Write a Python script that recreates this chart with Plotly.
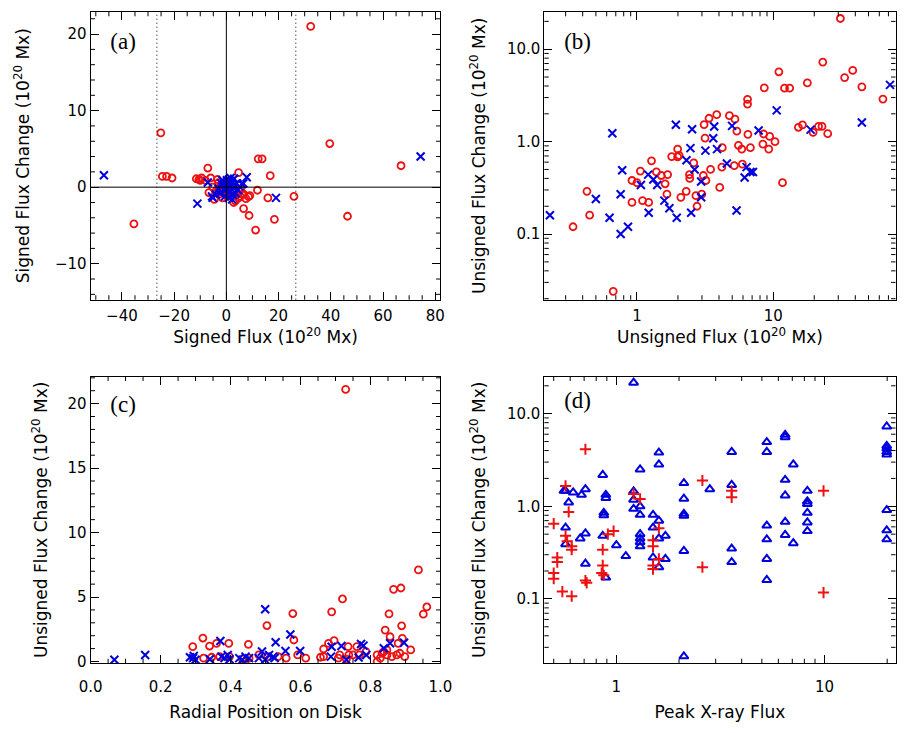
import math
import plotly.graph_objects as go

# ---------------- data ----------------
# Panel (a): signed flux vs signed flux change (1e20 Mx)
a_red_x = [32.3, -25.1, 39.6, 12.2, 13.7, 66.9, -7.1, 4.7, 16.8, -24.5, -22.9, -20.8, -11.5, -10.5, -9.5, -10.0,
           -3.4, 11.9, 15.9, 25.9, 8.5, 5.3, 6.6, 6.6, 8.7, 18.4, 11.2, 46.4, -35.4, -6.7, -4.6, 3.5, -1.5, -5.2,
           2.2, 4.7, 2.9, 1.0, -2.7, -1.5, 2.8, 6.0, -3.0, 0.5, -8.0, -6.0, 3.8, 5.5, 7.5, -1.0, 1.5, -4.0, 9.0,
           -2.0, 0.0]
a_red_y = [21.0, 7.1, 5.7, 3.7, 3.7, 2.8, 2.5, 1.9, 1.5, 1.4, 1.4, 1.2, 1.1, 1.0, 1.2, 0.9,
           1.0, -0.4, -1.4, -1.2, -1.25, -1.2, -0.9, -2.8, -3.7, -4.2, -5.6, -3.8, -4.8, -0.7, -1.6, -1.8, 0.3, 0.0,
           -0.5, -1.4, 0.3, -0.95, -0.9, -1.4, -2.0, -0.95, 0.6, -0.6, 0.9, 1.2, -1.0, -0.3, -1.5, -0.2, 0.8, -0.5,
           -1.1, 0.2, -1.1]
a_blue_x = [-46.9, 74.4, -11.1, 19.0, 7.8, 1.6, -7.1, -5.2, 1.0, 0.5, 1.5, 2.0, -1.0, 3.0, -2.0, 2.5, 4.0, -0.5,
            1.0, 3.5, -3.0, 0.8, 5.0, -1.5, 2.2, 6.0, -4.0, 1.2, 0.3, 3.0, -0.8, 4.5, 2.8, -2.5, 1.8, -5.5, 6.5, 0.2]
a_blue_y = [1.55, 4.0, -2.15, -1.4, 1.3, 1.2, 0.6, -1.4, -1.4, 0.3, -0.5, 0.8, -0.3, 0.2, 0.5, -1.0, 0.5, -1.2,
            1.0, -0.8, -0.2, -0.7, 0.1, 0.9, -1.6, 0.4, -1.0, 0.2, -0.2, 1.1, 0.4, -0.4, -0.1, -0.8, 0.5, -1.2, 0.5, 0.9]
a_dotted_x = [-26.6, 26.6]

# Panel (b): unsigned flux vs unsigned flux change
b_red_x = [31.1, 23.1, 11.0, 38.3, 33.4, 17.8, 8.6, 12.1, 13.2, 44.7, 63.8, 6.48, 6.48, 3.85, 3.38, 4.77, 5.24,
           3.11, 5.41, 6.52, 3.16, 8.5, 9.42, 10.3, 8.4, 9.27, 5.56, 5.88, 6.8, 4.23, 1.99, 1.8, 1.99, 2.04, 1.28,
           2.61, 4.2, 5.18, 5.94, 3.47, 1.06, 1.39, 1.68, 1.51, 2.43, 2.44, 3.07, 3.21, 0.92, 1.0, 1.61, 4.05, 11.7,
           0.43, 2.3, 1.66, 2.71, 2.99, 2.1, 1.1, 1.22, 0.92, 2.76, 0.45, 0.34, 0.67, 15.3, 16.4, 19.6, 21.5, 22.8,
           25.1]
b_red_y = [21.5, 7.26, 5.7, 5.9, 4.93, 4.32, 3.82, 3.79, 3.79, 3.92, 2.89, 2.87, 2.55, 1.96, 1.79, 1.91, 1.75,
           1.53, 1.30, 1.2, 1.09, 1.21, 1.14, 1.0, 0.94, 0.83, 0.91, 0.83, 0.86, 0.86, 0.83, 0.69, 0.686, 0.71, 0.62,
           0.59, 0.53, 0.55, 0.57, 0.50, 0.48, 0.47, 0.44, 0.43, 0.44, 0.40, 0.43, 0.38, 0.38, 0.36, 0.35, 0.32, 0.36,
           0.29, 0.29, 0.27, 0.26, 0.27, 0.25, 0.23, 0.22, 0.22, 0.20, 0.16, 0.12, 0.024, 1.43, 1.52, 1.26, 1.46, 1.46,
           1.22]
b_blue_x = [71.9, 10.6, 44.7, 1.93, 2.54, 3.69, 4.99, 7.81, 18.8, 0.66, 3.63, 2.47, 3.18, 3.87, 2.31, 4.57, 0.78,
            1.21, 2.65, 6.38, 6.8, 7.1, 6.17, 1.32, 2.96, 1.07, 1.41, 0.76, 0.50, 2.96, 1.59, 1.73, 2.5, 5.38, 1.22,
            1.96, 0.23, 0.63, 0.76, 0.86]
b_blue_y = [4.11, 2.18, 1.61, 1.52, 1.36, 1.46, 1.48, 1.32, 1.35, 1.23, 1.09, 0.85, 0.80, 0.83, 0.63, 0.58, 0.49,
            0.44, 0.50, 0.53, 0.47, 0.47, 0.41, 0.39, 0.37, 0.34, 0.34, 0.27, 0.24, 0.25, 0.23, 0.19, 0.17, 0.18, 0.17,
            0.15, 0.16, 0.15, 0.10, 0.12]

# Panel (c): radial position vs unsigned flux change
c_red_x = [.729, .937, .866, .887, .72, .961, .951, .689, .578, .853, .889, .504, .842, .856, .891, .321, .395, .451,
           .292, .34, .36, .581, .68, .696, .736, .761, .666, .879, .915, .787, .323, .346, .369, .397, .481, .506,
           .536, .559, .592, .615, .657, .666, .708, .712, .738, .75, .768, .819, .828, .833, .847, .861, .875, .898,
           .884, .847, .838, .819, .731, .434, .453]
c_red_y = [21.1, 7.1, 5.6, 5.7, 4.85, 4.23, 3.67, 3.85, 3.72, 3.69, 2.77, 2.79, 2.44, 1.92, 1.79, 1.82, 1.41, 1.33,
           1.15, 1.2, 1.4, 1.67, 1.41, 1.62, 1.15, 1.15, 0.97, 1.41, 0.9, 0.77, .26, .33, .38, .38, .51, .38,
           .38, .26, .51, .26, .33, .38, .26, .51, .51, .51, .51, 0.0, .26, .64, .51, .38, .51, .38,
           .64, .9, .77, .51, .18, .18, .26]
c_blue_x = [.068, .156, .284, .293, .3, .295, .341, .371, .374, .383, .392, .397, .425, .434, .443, .453, .481, .49,
            .499, .51, .522, .526, .499, .529, .571, .557, .599, .689, .717, .687, .731, .766, .773, .78, .788, .838,
            .856, .896]
c_blue_y = [.13, .51, .33, .26, .13, .44, .18, 1.59, .38, .26, .51, .18, .26, .13, .38, .26, .26, .77,
            .13, .51, .38, .26, 4.05, 1.49, 2.1, .82, .82, 1.15, 1.2, .38, .13, .31, 1.36, 1.23, .51, 1.03,
            1.41, 1.46]

# Panel (d): peak X-ray flux vs unsigned flux change
d_tri_x = [1.21, 19.9, 19.9, 19.9, 19.9, 19.9, 19.9, 19.9, 19.9,
           6.47, 6.47, 5.28, 5.28, 7.08, 6.47, 6.47, 6.47, 6.47, 7.08, 5.28, 5.28, 5.28, 5.28,
           8.27, 8.27, 8.27, 8.27, 8.27, 8.27,
           3.58, 3.58, 3.58, 3.58, 2.81,
           2.11, 2.11, 2.11, 2.11, 2.11, 2.11,
           1.6, 1.6, 1.6, 1.6, 1.6, 1.72, 1.72, 1.5, 1.5, 1.5,
           1.3, 1.3, 1.3, 1.3, 1.3, 1.3, 1.3, 1.21, 1.21, 1.21, 1.11, 1.0,
           0.89, 0.89, 0.87, 0.87, 0.86, 0.86, 0.89,
           0.71, 0.71, 0.71, 0.68, 0.67, 0.62, 0.57, 0.56, 0.59, 0.57, 0.57]
d_tri_y = [21.6, 7.27, 4.48, 4.2, 3.86, 3.62, 0.91, 0.55, 0.44,
           5.92, 5.58, 4.94, 3.86, 2.83, 1.93, 1.31, 0.68, 0.49, 0.40, 0.62, 0.44, 0.27, 0.16,
           1.47, 1.13, 1.06, 0.85, 0.67, 0.54,
           3.86, 1.70, 0.35, 0.25, 1.53,
           1.78, 1.21, 0.83, 0.79, 0.33, 0.024,
           3.8, 2.83, 0.70, 0.45, 0.22, 0.48, 0.27, 0.81, 0.59, 0.28,
           2.5, 1.0, 0.81, 0.50, 0.45, 0.41, 0.37, 1.45, 1.18, 0.94, 0.29, 0.38,
           1.33, 1.23, 0.85, 0.80, 2.18, 0.48, 0.17,
           1.53, 0.51, 0.24, 1.33, 0.45, 1.41, 1.47, 1.47, 1.10, 0.59, 0.39]
d_plus_x = [0.71, 0.50, 0.52, 0.52, 0.50, 0.50, 0.55, 0.61, 0.57, 0.59, 0.57, 0.58, 0.61, 0.61, 0.71, 0.72,
            0.86, 0.86, 0.85, 0.87, 0.91, 0.97, 1.21, 1.30, 1.5, 1.5, 1.5, 1.5, 1.6, 1.6, 2.59, 2.59, 3.58, 3.58,
            9.89, 9.89]
d_plus_y = [4.13, 0.65, 0.28, 0.25, 0.19, 0.165, 0.12, 0.107, 1.66, 0.87, 0.48, 0.42, 0.37, 0.34, 0.158, 0.149,
            0.34, 0.23, 0.19, 0.18, 0.50, 0.54, 1.36, 1.2, 0.43, 0.37, 0.23, 0.21, 0.58, 0.27, 1.9, 0.22, 1.47, 1.25,
            1.47, 0.117]

log_major_vals = [0.1, 1, 10]
log_major_text = ["0.1", "1.0", "10.0"]
logx_major_vals = [1, 10]
logx_major_text = ["1", "10"]
panel_labels = ["(a)", "(b)", "(c)", "(d)"]

# ---------------- styling ----------------
W, H = 915, 733
RED = "#ee1111"
BLUE = "#0000dd"
FONT = "DejaVu Sans"
SERIF = "Liberation Serif"
TFS = 17


def px_x(p):
    return p / W


def px_y(p):
    return 1 - p / H


PL = dict(left=(80.7, 440), right=(546.7, 907.3), top=(12, 303), bot=(380.7, 670.5))
dom_left = [px_x(80.7), px_x(440)]
dom_right = [px_x(546.7), px_x(907.3)]
dom_top = [px_y(303), px_y(12)]
dom_bot = [px_y(670.5), px_y(380.7)]


def frange(a, b, step):
    out, v = [], a
    while v <= b + 1e-9:
        out.append(round(v, 6))
        v += step
    return out


minor_log = [m * 10 ** k for k in range(-3, 3) for m in range(2, 10)]


def axis(domain, anchor, rng, typ="linear", tickvals=None, ticktext=None, title=None,
         standoff=10, lstand=None):
    d = dict(domain=domain, anchor=anchor, range=rng, type=typ, showgrid=False, zeroline=False,
             showline=True, linecolor="black", linewidth=1, mirror="allticks",
             ticks="inside", ticklen=8, tickwidth=1, tickcolor="black",
             tickmode="array", tickvals=tickvals,
             tickfont=dict(family=FONT, size=15, color="black"))
    if ticktext is not None:
        d["ticktext"] = ticktext
    if title is not None:
        d["title"] = dict(text=title, standoff=standoff, font=dict(family=FONT, size=TFS, color="black"))
    if lstand is not None:
        d["ticklabelstandoff"] = lstand
    return d


fig = go.Figure()


def sc(x, y, xa, ya, symbol, color, size=7, width=1.8):
    fig.add_trace(go.Scatter(x=x, y=y, xaxis=xa, yaxis=ya, mode="markers",
                             marker=dict(symbol=symbol, size=size, color=color,
                                         line=dict(color=color, width=width)),
                             showlegend=False, cliponaxis=True, hoverinfo="skip"))


# (a)
sc(a_red_x, a_red_y, "x", "y", "circle-open", RED)
sc(a_blue_x, a_blue_y, "x", "y", "x-thin-open", BLUE, size=8, width=2)
# (b)
sc(b_red_x, b_red_y, "x2", "y2", "circle-open", RED)
sc(b_blue_x, b_blue_y, "x2", "y2", "x-thin-open", BLUE, size=8, width=2)
# (c)
sc(c_red_x, c_red_y, "x3", "y3", "circle-open", RED)
sc(c_blue_x, c_blue_y, "x3", "y3", "x-thin-open", BLUE, size=8, width=2)
# (d)
sc(d_tri_x, d_tri_y, "x4", "y4", "triangle-up-open", BLUE, size=8, width=2)
sc(d_plus_x, d_plus_y, "x4", "y4", "cross-thin-open", RED, size=8, width=2)

UNIT = " (10<sup>20</sup> Mx)"
ra_x, ra_y = [-52, 82], [-14.7, 22.9]
rb_x, rb_y = [-0.679, 1.897], [-1.71, 1.404]
rc_x, rc_y = [0, 1], [-0.13, 22.1]
rd_x, rd_y = [-0.346, 1.341], [-1.694, 1.401]

fig.update_layout(
    width=W, height=H, margin=dict(l=0, r=0, t=0, b=0),
    paper_bgcolor="white", plot_bgcolor="white",
    font=dict(family=FONT, size=15, color="black"),
    xaxis=axis(dom_left, "y", ra_x, tickvals=frange(-40, 80, 20), title="Signed Flux" + UNIT,
               standoff=2, lstand=2),
    yaxis=axis(dom_top, "x", ra_y, tickvals=frange(-10, 20, 10), ticktext=["\u221210", "0", "10", "20"],
               title="Signed Flux Change" + UNIT, standoff=20),
    xaxis2=axis(dom_right, "y2", rb_x, "log", tickvals=logx_major_vals, ticktext=logx_major_text,
                title="Unsigned Flux" + UNIT, standoff=2, lstand=2),
    yaxis2=axis(dom_top, "x2", rb_y, "log", tickvals=log_major_vals, ticktext=log_major_text,
                title="Unsigned Flux Change" + UNIT, standoff=16),
    xaxis3=axis(dom_left, "y3", rc_x, tickvals=frange(0, 1, 0.2),
                ticktext=["0.0", "0.2", "0.4", "0.6", "0.8", "1.0"],
                title="Radial Position on Disk", standoff=10, lstand=10),
    yaxis3=axis(dom_bot, "x3", rc_y, tickvals=frange(0, 20, 5), title="Unsigned Flux Change" + UNIT,
                standoff=15),
    xaxis4=axis(dom_right, "y4", rd_x, "log", tickvals=logx_major_vals, ticktext=logx_major_text,
                title="Peak X-ray Flux", standoff=10, lstand=10),
    yaxis4=axis(dom_bot, "x4", rd_y, "log", tickvals=log_major_vals, ticktext=log_major_text,
                title="Unsigned Flux Change" + UNIT, standoff=16),
)

shapes = []

# reference lines in panel (a)
shapes.append(dict(type="line", xref="x", yref="y domain", x0=0, x1=0, y0=0, y1=1,
                   line=dict(color="black", width=1)))
shapes.append(dict(type="line", xref="x domain", yref="y", x0=0, x1=1, y0=0, y1=0,
                   line=dict(color="black", width=1)))
for xv in a_dotted_x:
    shapes.append(dict(type="line", xref="x", yref="y domain", x0=xv, x1=xv, y0=0, y1=1,
                       line=dict(color="black", width=1, dash="1px,3px")))


# minor ticks (drawn as short lines on all four sides, positions from the axis ranges)
def frac(v, rng, log):
    t = math.log10(v) if log else v
    return (t - rng[0]) / (rng[1] - rng[0])


def minor_ticks(xa, ya, xvals, xr, xlog, yvals, yr, ylog, pw, ph, L=4.5):
    lw = dict(color="black", width=1)
    for v in xvals:
        f = frac(v, xr, xlog)
        if 0.002 < f < 0.998:
            shapes.append(dict(type="line", xref=xa + " domain", yref=ya + " domain",
                               x0=f, x1=f, y0=0, y1=L / ph, line=lw))
            shapes.append(dict(type="line", xref=xa + " domain", yref=ya + " domain",
                               x0=f, x1=f, y0=1 - L / ph, y1=1, line=lw))
    for v in yvals:
        f = frac(v, yr, ylog)
        if 0.002 < f < 0.998:
            shapes.append(dict(type="line", xref=xa + " domain", yref=ya + " domain",
                               x0=0, x1=L / pw, y0=f, y1=f, line=lw))
            shapes.append(dict(type="line", xref=xa + " domain", yref=ya + " domain",
                               x0=1 - L / pw, x1=1, y0=f, y1=f, line=lw))


pw = 359.3
ph = 290.5
a_minor_x = [v for v in frange(-50, 80, 5) if v % 20 != 0]
a_minor_y = [v for v in frange(-14, 22, 2) if v % 10 != 0]
c_minor_x = [v for v in frange(0.05, 0.95, 0.05) if abs(v * 5 - round(v * 5)) > 1e-6]
c_minor_y = [v for v in frange(1, 22, 1) if v % 5 != 0]
minor_ticks("x", "y", a_minor_x, ra_x, False, a_minor_y, ra_y, False, pw, ph)
minor_ticks("x2", "y2", minor_log, rb_x, True, minor_log, rb_y, True, 360.6, ph)
minor_ticks("x3", "y3", c_minor_x, rc_x, False, c_minor_y, rc_y, False, pw, 289.8)
minor_ticks("x4", "y4", minor_log, rd_x, True, minor_log, rd_y, True, 360.6, 289.8)
fig.update_layout(shapes=shapes)

# panel labels as text placed in each panel's upper-left corner
label_pos = [("x", "y", ra_x, ra_y, False, 101, 44, PL["left"], PL["top"]),
             ("x2", "y2", rb_x, rb_y, True, 567, 44, PL["right"], PL["top"]),
             ("x3", "y3", rc_x, rc_y, False, 101, 411, PL["left"], PL["bot"]),
             ("x4", "y4", rd_x, rd_y, True, 567, 407, PL["right"], PL["bot"])]
for lab, (xa, ya, xr, yr, lg, px, py, (l, r), (t, b)) in zip(panel_labels, label_pos):
    xv = xr[0] + (px - l) / (r - l) * (xr[1] - xr[0])
    yv = yr[1] - (py - t) / (b - t) * (yr[1] - yr[0])
    if lg:
        xv, yv = 10 ** xv, 10 ** yv
    fig.add_trace(go.Scatter(x=[xv], y=[yv], xaxis=xa, yaxis=ya, mode="text", text=[lab],
                             textposition="middle right", showlegend=False, hoverinfo="skip",
                             textfont=dict(family=SERIF, size=23, color="black"), cliponaxis=False))

# remove the default 8px page margin so the 915x733 figure fills the window exactly
fig.write_html("out.html", config={"displayModeBar": False},
               post_script="document.body.style.margin='0px';document.body.style.overflow='hidden';")
